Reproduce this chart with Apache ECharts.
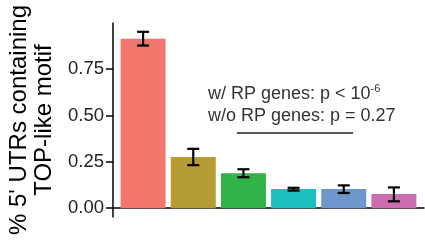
<!DOCTYPE html>
<html>
<head>
<meta charset="utf-8">
<script src="https://cdn.jsdelivr.net/npm/echarts@6/dist/echarts.min.js"></script>
<style>html,body{margin:0;padding:0;background:#fff}#c{width:425px;height:242px}</style>
</head>
<body>
<div id="c"></div>
<script>
// groups along x (positions 1..6), bar heights and error bar ends
var groups = [1, 2, 3, 4, 5, 6];
var means = [0.913, 0.276, 0.189, 0.103, 0.103, 0.076];
var lower = [0.877, 0.232, 0.167, 0.095, 0.082, 0.037];
var upper = [0.951, 0.320, 0.210, 0.110, 0.123, 0.112];
var colors = ['#F1766C', '#B59D33', '#31B34A', '#1DBDC0', '#6E95CC', '#CC6DB0'];
var yTicks = [0, 0.25, 0.5, 0.75];
var tickLabels = ['0.00', '0.25', '0.50', '0.75'];

var chart = echarts.init(document.getElementById('c'));

var barData = groups.map(function (g, i) {
    return {value: [g, means[i]], itemStyle: {color: colors[i]}};
});
var errData = groups.map(function (g, i) {
    return [g, lower[i], upper[i]];
});

var option = {
    animation: false,
    grid: {left: 113, right: 1, top: 23, bottom: 25, outerBoundsMode: 'none', containLabel: false},
    xAxis: {
        type: 'value', min: 0.4, max: 6.6,
        axisLine: {show: true, lineStyle: {color: '#000', width: 1.5}},
        axisTick: {show: false}, axisLabel: {show: false},
        splitLine: {show: false}
    },
    yAxis: {
        type: 'value', min: -0.0475, max: 0.9985,
        name: "% 5' UTRs containing\nTOP-like motif",
        nameLocation: 'middle', nameGap: 51,
        nameTextStyle: {fontFamily: 'Liberation Sans', fontSize: 24, color: '#000', lineHeight: 25},
        axisLine: {show: true, lineStyle: {color: '#000', width: 1.5}},
        axisTick: {show: true, length: 7, customValues: yTicks, lineStyle: {color: '#000', width: 1.5}},
        axisLabel: {
            customValues: yTicks, margin: 9,
            fontFamily: 'Liberation Sans', fontSize: 18.5, color: '#222',
            formatter: function (v) { return tickLabels[yTicks.indexOf(v)]; }
        },
        splitLine: {show: false}
    },
    series: [
        {type: 'bar', data: barData, barWidth: 45},
        {
            type: 'custom', data: errData, z: 5,
            renderItem: function (params, api) {
                var x = api.value(0);
                var lo = api.coord([x, api.value(1)]);
                var hi = api.coord([x, api.value(2)]);
                var hw = 6;
                var st = {stroke: '#000', lineWidth: 2.2};
                return {type: 'group', children: [
                    {type: 'line', shape: {x1: lo[0], y1: lo[1], x2: hi[0], y2: hi[1]}, style: st},
                    {type: 'line', shape: {x1: lo[0] - hw, y1: lo[1], x2: lo[0] + hw, y2: lo[1]}, style: st},
                    {type: 'line', shape: {x1: hi[0] - hw, y1: hi[1], x2: hi[0] + hw, y2: hi[1]}, style: st}
                ]};
            }
        }
    ],
    graphic: [
        {
            type: 'text', left: 208, top: 83,
            style: {
                text: 'w/ RP genes: p < 10{sup|-6}\nw/o RP genes: p = 0.27',
                fontFamily: 'Liberation Sans', fontSize: 18, fill: '#333', lineHeight: 22,
                rich: {sup: {fontSize: 11, verticalAlign: 'top', fill: '#333', lineHeight: 22, padding: [0, 0, 8, 0]}}
            }
        },
        {type: 'line', shape: {x1: 237, y1: 133, x2: 353, y2: 133}, style: {stroke: '#222', lineWidth: 1.6}}
    ]
};
chart.setOption(option);
</script>
</body>
</html>
